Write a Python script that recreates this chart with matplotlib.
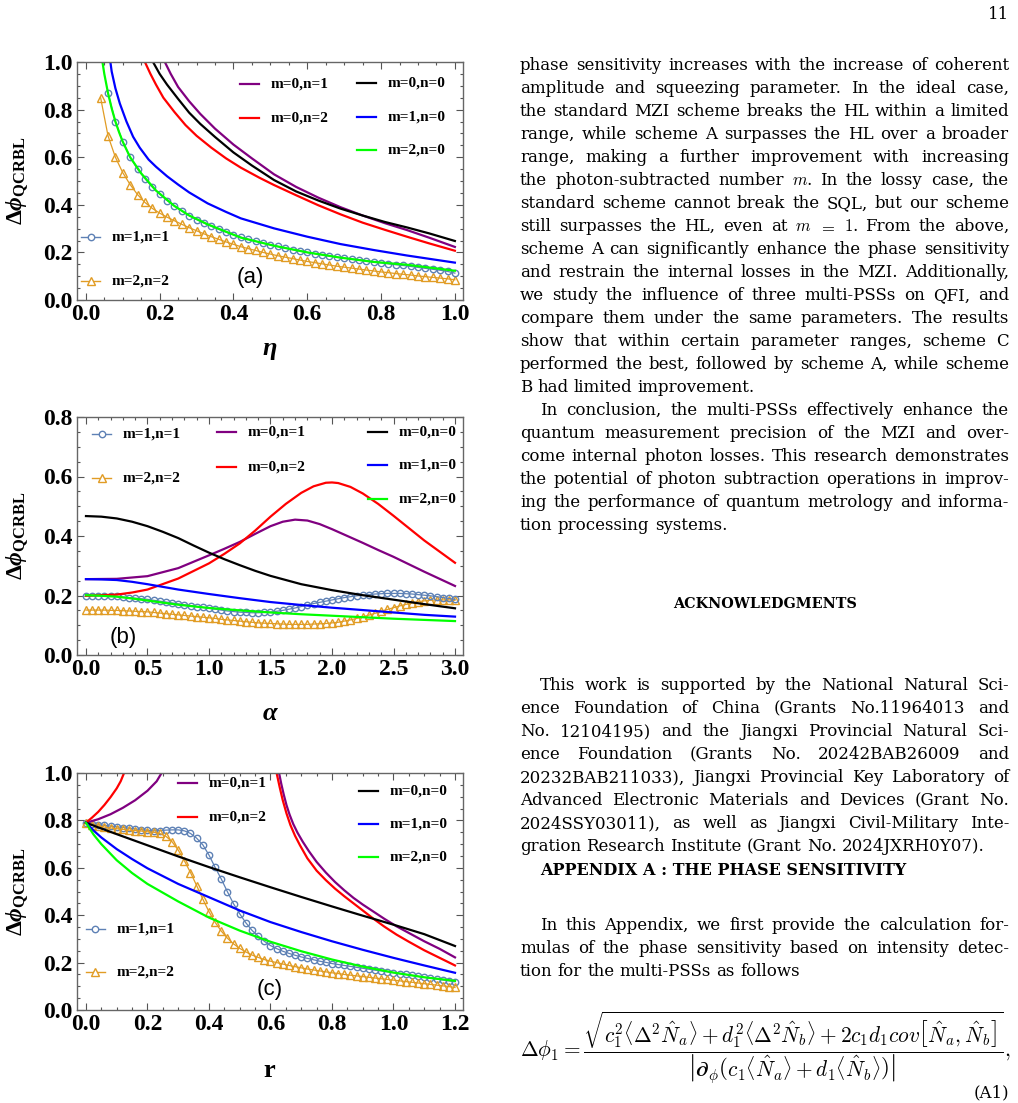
import matplotlib
matplotlib.use('Agg')
import matplotlib.pyplot as plt
from matplotlib.lines import Line2D
from matplotlib.ticker import MultipleLocator, FormatStrFormatter

# Mathematica-like frame: bold serif ticks, bold math labels
plt.rcParams['font.family'] = 'Liberation Serif'
plt.rcParams['font.weight'] = 'bold'
plt.rcParams['mathtext.fontset'] = 'custom'
plt.rcParams['mathtext.rm'] = 'Liberation Serif:bold'
plt.rcParams['mathtext.it'] = 'Liberation Serif:italic:bold'
plt.rcParams['mathtext.bf'] = 'Liberation Serif:bold'

# ---------------- panel (a): versus eta ----------------
ETA_PURPLE = [0.20, 0.214, 0.23, 0.25, 0.28, 0.31, 0.35, 0.40, 0.45, 0.51, 0.57, 0.63, 0.69,
              0.75, 0.81, 0.87, 0.93, 1.0]
VAL_PURPLE = [1.05, 1.0, 0.95, 0.895, 0.835, 0.782, 0.72, 0.653, 0.595, 0.528, 0.475, 0.43,
              0.39, 0.355, 0.323, 0.294, 0.262, 0.223]
ETA_BLACK = [0.17, 0.182, 0.20, 0.22, 0.25, 0.28, 0.31, 0.35, 0.40, 0.45, 0.51, 0.57, 0.63,
             0.69, 0.75, 0.81, 0.87, 0.93, 1.0]
VAL_BLACK = [1.06, 1.0, 0.95, 0.905, 0.845, 0.787, 0.74, 0.685, 0.62, 0.565, 0.504, 0.456,
             0.418, 0.384, 0.355, 0.328, 0.305, 0.28, 0.248]
ETA_RED = [0.15, 0.16, 0.175, 0.19, 0.21, 0.24, 0.27, 0.30, 0.34, 0.38, 0.42, 0.47, 0.51, 0.57,
           0.63, 0.69, 0.75, 0.81, 0.87, 0.93, 1.0]
VAL_RED = [1.06, 1.0, 0.95, 0.905, 0.85, 0.79, 0.735, 0.69, 0.64, 0.595, 0.556, 0.514, 0.483,
           0.44, 0.398, 0.36, 0.325, 0.295, 0.266, 0.238, 0.207]
ETA_BLUE = [0.062, 0.07, 0.08, 0.092, 0.11, 0.128, 0.146, 0.17, 0.19, 0.22, 0.25, 0.28, 0.33,
            0.38, 0.42, 0.51, 0.60, 0.69, 0.78, 0.87, 1.0]
VAL_BLUE = [1.05, 0.96, 0.89, 0.826, 0.75, 0.686, 0.64, 0.59, 0.56, 0.52, 0.485, 0.452, 0.406,
            0.37, 0.343, 0.301, 0.266, 0.235, 0.21, 0.187, 0.157]
ETA_GREEN = [0.04, 0.05, 0.06, 0.07, 0.08, 0.09, 0.10, 0.12, 0.15, 0.19, 0.24, 0.28, 0.33, 0.42,
             0.51, 0.60, 0.69, 0.78, 0.87, 1.0]
VAL_GREEN = [1.05, 0.95, 0.87, 0.805, 0.75, 0.705, 0.665, 0.6, 0.532, 0.46, 0.395, 0.355, 0.318,
             0.262, 0.228, 0.2, 0.178, 0.16, 0.148, 0.123]

ETA_MK = [0.04, 0.06, 0.08, 0.10, 0.12, 0.14, 0.16, 0.18, 0.20, 0.22, 0.24, 0.26, 0.28, 0.30,
          0.32, 0.34, 0.36, 0.38, 0.40, 0.42, 0.44, 0.46, 0.48, 0.50, 0.52, 0.54, 0.56, 0.58,
          0.60, 0.62, 0.64, 0.66, 0.68, 0.70, 0.72, 0.74, 0.76, 0.78, 0.80, 0.82, 0.84, 0.86,
          0.88, 0.90, 0.92, 0.94, 0.96, 0.98, 1.00]
CIRC_A = [0.868, 0.75, 0.665, 0.60, 0.55, 0.51, 0.475, 0.445, 0.418, 0.395, 0.374, 0.355, 0.338,
          0.323, 0.31, 0.297, 0.285, 0.274, 0.264, 0.255, 0.247, 0.239, 0.232, 0.225, 0.218,
          0.212, 0.206, 0.200, 0.195, 0.19, 0.185, 0.18, 0.176, 0.172, 0.168, 0.164, 0.16,
          0.156, 0.152, 0.148, 0.145, 0.141, 0.137, 0.133, 0.129, 0.125, 0.12, 0.113]
TRI_A = [0.85, 0.69, 0.60, 0.535, 0.485, 0.443, 0.41, 0.385, 0.365, 0.348, 0.333, 0.318, 0.304,
         0.291, 0.278, 0.266, 0.255, 0.244, 0.234, 0.224, 0.216, 0.208, 0.200, 0.193, 0.186,
         0.180, 0.174, 0.168, 0.162, 0.157, 0.152, 0.147, 0.142, 0.138, 0.134, 0.130, 0.126,
         0.122, 0.118, 0.115, 0.111, 0.108, 0.105, 0.101, 0.098, 0.095, 0.092, 0.089, 0.085]

# ---------------- panel (b): versus alpha ----------------
ALPHA = [0.0, 0.125, 0.25, 0.375, 0.5, 0.75, 1.0, 1.25, 1.5, 1.75, 2.0, 2.25, 2.5, 2.75, 3.0]
B_BLUE = [0.255, 0.254, 0.252, 0.246, 0.238, 0.22, 0.205, 0.191, 0.178, 0.168, 0.159, 0.151,
          0.143, 0.135, 0.129]
B_GREEN = [0.201, 0.199, 0.196, 0.19, 0.183, 0.169, 0.158, 0.15, 0.143, 0.137, 0.132, 0.127,
           0.122, 0.118, 0.114]
ALPHA_BLACK = [0.0, 0.125, 0.25, 0.375, 0.5, 0.625, 0.75, 0.875, 1.0, 1.125, 1.25, 1.375, 1.5,
               1.75, 2.0, 2.25, 2.5, 2.75, 3.0]
B_BLACK = [0.467, 0.465, 0.459, 0.448, 0.433, 0.414, 0.393, 0.368, 0.344, 0.322, 0.302, 0.283,
           0.266, 0.238, 0.218, 0.201, 0.186, 0.171, 0.157]
ALPHA_RED = [0.0, 0.25, 0.375, 0.5, 0.75, 1.0, 1.125, 1.25, 1.375, 1.5, 1.625, 1.75, 1.85, 1.95,
             2.0, 2.05, 2.15, 2.25, 2.375, 2.5, 2.75, 3.0]
B_RED = [0.199, 0.203, 0.21, 0.22, 0.257, 0.308, 0.34, 0.375, 0.418, 0.465, 0.508, 0.545, 0.567,
         0.579, 0.58, 0.578, 0.565, 0.543, 0.508, 0.468, 0.385, 0.31]
ALPHA_PURPLE = [0.0, 0.25, 0.5, 0.75, 1.0, 1.125, 1.25, 1.375, 1.5, 1.6, 1.7, 1.8, 1.9, 2.0,
                2.125, 2.25, 2.375, 2.5, 2.75, 3.0]
B_PURPLE = [0.255, 0.256, 0.265, 0.292, 0.335, 0.357, 0.38, 0.407, 0.433, 0.448, 0.455, 0.452,
            0.44, 0.423, 0.4, 0.377, 0.353, 0.33, 0.28, 0.232]

ALPHA_MK = [0.00, 0.05, 0.10, 0.15, 0.20, 0.25, 0.30, 0.35, 0.40, 0.45, 0.50, 0.55, 0.60, 0.65,
            0.70, 0.75, 0.80, 0.85, 0.90, 0.95, 1.00, 1.05, 1.10, 1.15, 1.20, 1.25, 1.30, 1.35,
            1.40, 1.45, 1.50, 1.55, 1.60, 1.65, 1.70, 1.75, 1.80, 1.85, 1.90, 1.95, 2.00, 2.05,
            2.10, 2.15, 2.20, 2.25, 2.30, 2.35, 2.40, 2.45, 2.50, 2.55, 2.60, 2.65, 2.70, 2.75,
            2.80, 2.85, 2.90, 2.95, 3.00]
CIRC_B = [0.200, 0.200, 0.200, 0.199, 0.198, 0.197, 0.195, 0.193, 0.191, 0.189, 0.187, 0.184,
          0.181, 0.178, 0.175, 0.172, 0.169, 0.166, 0.163, 0.160, 0.157, 0.154, 0.151, 0.148,
          0.146, 0.144, 0.143, 0.142, 0.142, 0.143, 0.144, 0.147, 0.150, 0.154, 0.158, 0.163,
          0.168, 0.173, 0.177, 0.181, 0.185, 0.189, 0.193, 0.196, 0.199, 0.201, 0.203, 0.205,
          0.206, 0.207, 0.207, 0.207, 0.206, 0.205, 0.203, 0.201, 0.199, 0.196, 0.193, 0.190,
          0.187]
TRI_B = [0.151, 0.151, 0.151, 0.151, 0.150, 0.150, 0.149, 0.148, 0.147, 0.146, 0.145, 0.143,
         0.141, 0.139, 0.137, 0.135, 0.133, 0.131, 0.129, 0.127, 0.125, 0.123, 0.120, 0.118,
         0.116, 0.114, 0.112, 0.110, 0.108, 0.107, 0.106, 0.105, 0.104, 0.103, 0.103, 0.103,
         0.103, 0.104, 0.105, 0.106, 0.108, 0.110, 0.114, 0.118, 0.123, 0.128, 0.134, 0.140,
         0.147, 0.153, 0.159, 0.165, 0.170, 0.175, 0.179, 0.182, 0.184, 0.185, 0.185, 0.185,
         0.184]

# ---------------- panel (c): versus r ----------------
R_LINE = [0.0, 0.1, 0.2, 0.3, 0.4, 0.5, 0.6, 0.7, 0.8, 0.9, 1.0, 1.1, 1.2]
C_BLACK = [0.79, 0.742, 0.695, 0.648, 0.603, 0.56, 0.518, 0.477, 0.437, 0.398, 0.36, 0.32, 0.27]
R_FAST = [0.0, 0.025, 0.05, 0.1, 0.15, 0.2, 0.3, 0.4, 0.5, 0.6, 0.7, 0.8, 0.9, 1.0, 1.1, 1.2]
C_BLUE = [0.79, 0.757, 0.728, 0.679, 0.637, 0.598, 0.532, 0.476, 0.42, 0.371, 0.329, 0.29, 0.254,
          0.22, 0.188, 0.157]
C_GREEN = [0.79, 0.74, 0.70, 0.632, 0.578, 0.532, 0.458, 0.39, 0.335, 0.288, 0.248, 0.213, 0.183,
           0.158, 0.138, 0.123]
R_RED_L = [0.0, 0.02, 0.04, 0.06, 0.08, 0.1, 0.113, 0.124, 0.13]
C_RED_L = [0.79, 0.812, 0.836, 0.865, 0.898, 0.935, 0.965, 1.0, 1.02]
R_PURPLE_L = [0.0, 0.04, 0.08, 0.12, 0.16, 0.2, 0.23, 0.246, 0.255]
C_PURPLE_L = [0.79, 0.805, 0.826, 0.853, 0.885, 0.925, 0.965, 1.0, 1.02]
R_RED_R = [0.615, 0.62, 0.63, 0.64, 0.652, 0.665, 0.68, 0.696, 0.72, 0.75, 0.78, 0.81, 0.84,
           0.87, 0.9, 0.935, 0.97, 1.01, 1.05, 1.1, 1.15, 1.2]
C_RED_R = [1.03, 1.0, 0.94, 0.885, 0.83, 0.78, 0.735, 0.695, 0.64, 0.588, 0.548, 0.512, 0.48,
           0.45, 0.42, 0.385, 0.352, 0.318, 0.288, 0.252, 0.22, 0.188]
R_PURPLE_R = [0.623, 0.628, 0.635, 0.643, 0.652, 0.662, 0.674, 0.688, 0.705, 0.725, 0.75, 0.78,
              0.81, 0.84, 0.87, 0.9, 0.935, 0.97, 1.01, 1.05, 1.1, 1.15, 1.2]
C_PURPLE_R = [1.03, 1.0, 0.955, 0.91, 0.865, 0.825, 0.785, 0.748, 0.71, 0.67, 0.625, 0.58, 0.54,
              0.505, 0.473, 0.445, 0.415, 0.385, 0.353, 0.325, 0.29, 0.258, 0.222]

R_MK = [0.00, 0.02, 0.04, 0.06, 0.08, 0.10, 0.12, 0.14, 0.16, 0.18, 0.20, 0.22, 0.24, 0.26,
        0.28, 0.30, 0.32, 0.34, 0.36, 0.38, 0.40, 0.42, 0.44, 0.46, 0.48, 0.50, 0.52, 0.54,
        0.56, 0.58, 0.60, 0.62, 0.64, 0.66, 0.68, 0.70, 0.72, 0.74, 0.76, 0.78, 0.80, 0.82,
        0.84, 0.86, 0.88, 0.90, 0.92, 0.94, 0.96, 0.98, 1.00, 1.02, 1.04, 1.06, 1.08, 1.10,
        1.12, 1.14, 1.16, 1.18, 1.20]
CIRC_C = [0.79, 0.786, 0.782, 0.779, 0.776, 0.773, 0.77, 0.767, 0.764, 0.761, 0.758, 0.756,
          0.757, 0.759, 0.76, 0.76, 0.756, 0.745, 0.725, 0.697, 0.654, 0.602, 0.553, 0.499,
          0.448, 0.406, 0.368, 0.336, 0.312, 0.29, 0.272, 0.259, 0.248, 0.239, 0.231, 0.224,
          0.218, 0.212, 0.206, 0.201, 0.196, 0.192, 0.188, 0.184, 0.18, 0.176, 0.172, 0.168,
          0.165, 0.161, 0.157, 0.153, 0.15, 0.146, 0.142, 0.138, 0.135, 0.131, 0.127, 0.123,
          0.119]
TRI_C = [0.79, 0.782, 0.777, 0.772, 0.768, 0.765, 0.762, 0.759, 0.757, 0.755, 0.752, 0.75,
         0.745, 0.733, 0.71, 0.675, 0.63, 0.58, 0.525, 0.468, 0.415, 0.37, 0.333, 0.303, 0.279,
         0.26, 0.245, 0.232, 0.222, 0.213, 0.206, 0.2, 0.194, 0.188, 0.183, 0.178, 0.173, 0.169,
         0.165, 0.161, 0.157, 0.154, 0.15, 0.147, 0.144, 0.141, 0.138, 0.135, 0.132, 0.129,
         0.126, 0.123, 0.12, 0.117, 0.114, 0.111, 0.108, 0.105, 0.102, 0.099, 0.095]

LABELS = ['m=0,n=1', 'm=0,n=2', 'm=0,n=0', 'm=1,n=0', 'm=2,n=0', 'm=1,n=1', 'm=2,n=2']

PURPLE, RED, BLACK, BLUE, GREEN = '#800080', '#ff0000', '#000000', '#0000ff', '#00ff00'
CIRC_COL, TRI_COL = '#5e81b5', '#e19c24'
MS_CIRC, MS_TRI = 4.6, 5.2

W, H = 1018, 1103
fig = plt.figure(figsize=(W / 100, H / 100), dpi=100)
renderer = fig.canvas.get_renderer()


def px(x, y):
    return x / W, 1 - y / H


def panel(top, bottom, xlim, ylim, xmaj, xmin, xlabel, xlab_y):
    ax = fig.add_axes([77 / W, 1 - bottom / H, 386 / W, (bottom - top) / H])
    ax.set_xlim(*xlim)
    ax.set_ylim(*ylim)
    ax.xaxis.set_major_locator(MultipleLocator(xmaj))
    ax.xaxis.set_minor_locator(MultipleLocator(xmin))
    ax.yaxis.set_major_locator(MultipleLocator(0.2))
    ax.yaxis.set_minor_locator(MultipleLocator(0.05))
    ax.xaxis.set_major_formatter(FormatStrFormatter('%.1f'))
    ax.yaxis.set_major_formatter(FormatStrFormatter('%.1f'))
    ax.tick_params(which='both', direction='in', top=True, right=True,
                   color='#555555', width=0.8)
    ax.tick_params(which='major', length=5, labelsize=17, pad=3)
    ax.tick_params(which='minor', length=2.5)
    for s in ax.spines.values():
        s.set_color('#666666')
        s.set_linewidth(1.0)
    ax.set_ylabel(r'$\Delta\phi_{\rm QCRBL}$', fontsize=17)
    ax.yaxis.set_label_coords(-0.12, 0.5)
    ax.set_xlabel(xlabel, fontsize=19)
    ax.xaxis.set_label_coords(0.5, xlab_y)
    return ax


def markers(ax, x, y, marker, color, ms):
    ax.plot(x, y, marker=marker, color=color, lw=0.9, ms=ms, mfc='none', mew=1.0)


def legend_item(x, y, label, color, marker=None, ms=MS_CIRC):
    x0, y0 = px(x, y)
    x1, _ = px(x + 19, y)
    fig.add_artist(Line2D([x0, x1], [y0, y0], transform=fig.transFigure, color=color,
                          lw=1.0 if marker else 1.6))
    if marker:
        fig.add_artist(Line2D([(x0 + x1) / 2], [y0], transform=fig.transFigure, color=color,
                              marker=marker, ms=ms, mfc='white', mew=1.0))
    fig.text(*px(x + 31, y), label, ha='left', va='center', fontsize=11, fontweight='bold')


def tag(x, y, s):
    fig.text(*px(x, y), s, ha='center', va='center', fontsize=16,
             family='Liberation Sans', fontweight='normal')


# ---- (a)
ax = panel(62, 300, (-0.024, 1.022), (0, 1.0), 0.2, 0.05, r'$\eta$', -0.17)
markers(ax, ETA_MK, TRI_A, '^', TRI_COL, MS_TRI)
markers(ax, ETA_MK[1:], CIRC_A, 'o', CIRC_COL, MS_CIRC)
ax.plot(ETA_PURPLE, VAL_PURPLE, color=PURPLE, lw=1.6)
ax.plot(ETA_RED, VAL_RED, color=RED, lw=1.6)
ax.plot(ETA_BLACK, VAL_BLACK, color=BLACK, lw=1.6)
ax.plot(ETA_BLUE, VAL_BLUE, color=BLUE, lw=1.6)
ax.plot(ETA_GREEN, VAL_GREEN, color=GREEN, lw=1.6)
legend_item(240, 84, LABELS[0], PURPLE)
legend_item(240, 118, LABELS[1], RED)
legend_item(357, 83, LABELS[2], BLACK)
legend_item(357, 117, LABELS[3], BLUE)
legend_item(357, 150, LABELS[4], GREEN)
legend_item(81, 237, LABELS[5], CIRC_COL, 'o')
legend_item(81, 281, LABELS[6], TRI_COL, '^', MS_TRI)
tag(250, 277, '(a)')

# ---- (b)
ax = panel(417, 655, (-0.073, 3.065), (0, 0.8), 0.5, 0.1, r'$\alpha$', -0.2)
markers(ax, ALPHA_MK, TRI_B, '^', TRI_COL, MS_TRI)
markers(ax, ALPHA_MK, CIRC_B, 'o', CIRC_COL, MS_CIRC)
ax.plot(ALPHA_PURPLE, B_PURPLE, color=PURPLE, lw=1.6)
ax.plot(ALPHA_RED, B_RED, color=RED, lw=1.6)
ax.plot(ALPHA_BLACK, B_BLACK, color=BLACK, lw=1.6)
ax.plot(ALPHA, B_BLUE, color=BLUE, lw=1.6)
ax.plot(ALPHA, B_GREEN, color=GREEN, lw=1.6)
legend_item(92, 434, LABELS[5], CIRC_COL, 'o')
legend_item(92, 478, LABELS[6], TRI_COL, '^', MS_TRI)
legend_item(217, 432, LABELS[0], PURPLE)
legend_item(217, 467, LABELS[1], RED)
legend_item(368, 432, LABELS[2], BLACK)
legend_item(368, 465, LABELS[3], BLUE)
legend_item(368, 499, LABELS[4], GREEN)
tag(123, 637, '(b)')

# ---- (c)
ax = panel(773, 1010, (-0.029, 1.226), (0, 1.0), 0.2, 0.05, r'$\mathrm{r}$', -0.21)
markers(ax, R_MK, CIRC_C, 'o', CIRC_COL, MS_CIRC)
markers(ax, R_MK, TRI_C, '^', TRI_COL, MS_TRI)
ax.plot(R_PURPLE_L, C_PURPLE_L, color=PURPLE, lw=1.6)
ax.plot(R_PURPLE_R, C_PURPLE_R, color=PURPLE, lw=1.6)
ax.plot(R_RED_L, C_RED_L, color=RED, lw=1.6)
ax.plot(R_RED_R, C_RED_R, color=RED, lw=1.6)
ax.plot(R_LINE, C_BLACK, color=BLACK, lw=1.6)
ax.plot(R_FAST, C_BLUE, color=BLUE, lw=1.6)
ax.plot(R_FAST, C_GREEN, color=GREEN, lw=1.6)
legend_item(178, 783, LABELS[0], PURPLE)
legend_item(178, 817, LABELS[1], RED)
legend_item(359, 791, LABELS[2], BLACK)
legend_item(359, 824, LABELS[3], BLUE)
legend_item(359, 857, LABELS[4], GREEN)
legend_item(86, 929, LABELS[5], CIRC_COL, 'o')
legend_item(86, 972, LABELS[6], TRI_COL, '^', MS_TRI)
tag(270, 990, '(c)')

# ---------------- right-hand text column ----------------
P1 = ['phase sensitivity increases with the increase of coherent',
      'amplitude and squeezing parameter.  In the ideal case,',
      'the standard MZI scheme breaks the HL within a limited',
      'range, while scheme A surpasses the HL over a broader',
      'range, making a further improvement with increasing',
      'the photon-subtracted number $m$. In the lossy case, the',
      'standard scheme cannot break the SQL, but our scheme',
      'still surpasses the HL, even at $m$ $=$ $1$. From the above,',
      'scheme A can significantly enhance the phase sensitivity',
      'and restrain the internal losses in the MZI. Additionally,',
      'we study the influence of three multi-PSSs on QFI, and',
      'compare them under the same parameters.  The results',
      'show that within certain parameter ranges, scheme C',
      'performed the best, followed by scheme A, while scheme',
      'B had limited improvement.']
P2 = ['In conclusion, the multi-PSSs effectively enhance the',
      'quantum measurement precision of the MZI and over-',
      'come internal photon losses. This research demonstrates',
      'the potential of photon subtraction operations in improv-',
      'ing the performance of quantum metrology and informa-',
      'tion processing systems.']
P3 = ['This work is supported by the National Natural Sci-',
      'ence Foundation of China (Grants No.11964013 and',
      'No.  12104195) and the Jiangxi Provincial Natural Sci-',
      'ence Foundation (Grants No.  20242BAB26009 and',
      '20232BAB211033), Jiangxi Provincial Key Laboratory of',
      'Advanced Electronic Materials and Devices (Grant No.',
      '2024SSY03011), as well as Jiangxi Civil-Military Inte-',
      'gration Research Institute (Grant No. 2024JXRH0Y07).']
P4 = ['In this Appendix, we first provide the calculation for-',
      'mulas of the phase sensitivity based on intensity detec-',
      'tion for the multi-PSSs as follows']

SERIF = 'DejaVu Serif'


def width_of(s, **kw):
    t = fig.text(0, 0, s, **kw)
    w = t.get_window_extent(renderer).width
    t.remove()
    return w


# pick the largest body size whose widest justified line still fits the column
body_size = 10.0
for size in [12.0, 11.75, 11.5, 11.25, 11.0, 10.75, 10.5, 10.25, 10.0]:
    kw = dict(fontsize=size, family=SERIF, fontweight='normal', math_fontfamily='cm')
    widest = max(width_of(l, **kw) + (20 if i == 0 and p is not P1 else 0)
                 for p in (P1, P2, P3, P4) for i, l in enumerate(p[:-1]))
    if widest <= 492:
        body_size = size
        break

BODY = dict(fontsize=body_size, fontweight='normal', family=SERIF,
            math_fontfamily='cm', va='baseline')
SPACE = width_of('a a', **BODY) - 2 * width_of('a', **BODY)


def body_line(text, y, x0=520, x1=1009, justify=True):
    words = text.split()
    items = [fig.text(0, 0, w, **BODY) for w in words]
    widths = [t.get_window_extent(renderer).width for t in items]
    gap = (x1 - x0 - sum(widths)) / (len(items) - 1) if justify and len(items) > 1 else SPACE
    x = x0
    for t, w in zip(items, widths):
        t.set_position(px(x, y))
        x += w + gap


def paragraph(lines, y0, indent=True):
    for i, line in enumerate(lines):
        last = i == len(lines) - 1
        body_line(line, y0 + 23 * i, x0=540 if (i == 0 and indent) else 520, justify=not last)


def fitted(x, y, s, target, size, **kw):
    # scale a text so that it spans the target width in pixels
    w = width_of(s, fontsize=size, **kw)
    return fig.text(*px(x, y), s, fontsize=size * target / w, **kw)


fig.text(*px(1009, 19), '11', ha='right', va='baseline', fontsize=body_size,
         family=SERIF, fontweight='normal')
paragraph(P1, 70, indent=False)   # continues from the previous page
paragraph(P2, 415)
fitted(765, 608, 'ACKNOWLEDGMENTS', 184, 11, ha='center', va='baseline',
       family=SERIF, fontweight='bold')
paragraph(P3, 690)
fitted(540, 875, 'APPENDIX A : THE PHASE SENSITIVITY', 365, 11, ha='left', va='baseline',
       family=SERIF, fontweight='bold')
paragraph(P4, 930)

eq = (r'$\Delta\phi_1 = \dfrac{\sqrt{c_1^2\left\langle\Delta^2\hat{N}_a\right\rangle'
      r' + d_1^2\left\langle\Delta^2\hat{N}_b\right\rangle'
      r' + 2c_1d_1cov\left[\hat{N}_a,\hat{N}_b\right]}}'
      r'{\left|\partial_\phi\left(c_1\left\langle\hat{N}_a\right\rangle'
      r' + d_1\left\langle\hat{N}_b\right\rangle\right)\right|},$')
fitted(520, 1048, eq, 490, 12.5, ha='left', va='center', fontweight='normal',
       math_fontfamily='cm')
fig.text(*px(1009, 1101), '(A1)', ha='right', va='bottom', fontsize=body_size,
         family=SERIF, fontweight='normal')

fig.savefig('out.png', dpi=100)
